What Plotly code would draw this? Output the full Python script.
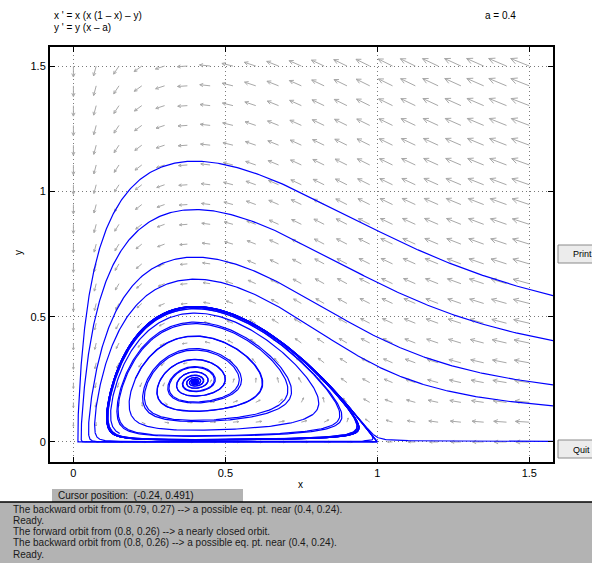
import math
import numpy as np
import plotly.graph_objects as go

# ---------------- data ----------------
a_param = 0.4
x_range = [-0.077, 1.578]
y_range = [-0.080, 1.576]
tick_vals = [0, 0.5, 1, 1.5]
tick_text = ["0", "0.5", "1", "1.5"]

# direction-field sample points
field_x = list(np.linspace(0.0, 1.5, 21))
field_y = list(np.linspace(0.0, 1.5, 20))

# orbits entering from the right edge: (x0, y0, forward time)
outer_x0 = [1.578, 1.578, 1.578, 1.578, 1.578]
outer_y0 = [0.584, 0.404, 0.228, 0.144, 0.002]
outer_T = [200, 200, 200, 200, 200]

# clicked orbits inside the cycle: (x0, y0, forward time, backward time)
inner_x0 = [0.80, 0.79, 0.62, 0.50]
inner_y0 = [0.26, 0.27, 0.25, 0.245]
inner_Tf = [150, 150, 40, 30]
inner_Tb = [300, 300, 300, 300]

messages = [
    "The backward orbit from (0.79, 0.27) --> a possible eq. pt. near (0.4, 0.24).",
    "Ready.",
    "The forward orbit from (0.8, 0.26) --> a nearly closed orbit.",
    "The backward orbit from (0.8, 0.26) --> a possible eq. pt. near (0.4, 0.24).",
    "Ready.",
]
cursor_text = "Cursor position:  (-0.24, 0.491)"
eq_text = ["x ' = x (x (1 \u2013 x) \u2013 y)", "y ' = y (x \u2013 a)"]
param_text = "a = 0.4"

# ---------------- layout geometry ----------------
W, H = 592, 563
ML, MR, MT, MB = 50, 39, 47, 101
PW, PH = W - ML - MR, H - MT - MB
px_x = PW / (x_range[1] - x_range[0])
px_y = PH / (y_range[1] - y_range[0])


def xp(px):
    return (px - ML) / PW


def yp(py):
    return (H - MB - py) / PH


def rhs(x, y):
    return x * (x * (1 - x) - y), y * (x - a_param)


def integrate(x0, y0, T, sgn):
    xs, ys = [x0], [y0]
    x, y, t = x0, y0, 0.0
    while t < T:
        fx, fy = rhs(x, y)
        sp = math.hypot(fx, fy)
        h = min(0.05, 0.003 / max(sp, 1e-12))
        hh = h * sgn
        k1 = rhs(x, y)
        k2 = rhs(x + hh / 2 * k1[0], y + hh / 2 * k1[1])
        k3 = rhs(x + hh / 2 * k2[0], y + hh / 2 * k2[1])
        k4 = rhs(x + hh * k3[0], y + hh * k3[1])
        x += hh / 6 * (k1[0] + 2 * k2[0] + 2 * k3[0] + k4[0])
        y += hh / 6 * (k1[1] + 2 * k2[1] + 2 * k3[1] + k4[1])
        t += h
        xs.append(x)
        ys.append(y)
        if x < -0.1 or x > 1.65 or y < -0.1 or y > 1.65:
            break
        if sgn < 0 and math.hypot(x - a_param, y - a_param * (1 - a_param)) < 0.002:
            break
    return xs, ys


ox, oy = [], []


def add(xs, ys):
    step = 2
    ox.extend([round(v, 5) for v in xs[::step]] + [None])
    oy.extend([round(v, 5) for v in ys[::step]] + [None])


for x0, y0, T in zip(outer_x0, outer_y0, outer_T):
    add(*integrate(x0, y0, T, 1))
for x0, y0, Tf, Tb in zip(inner_x0, inner_y0, inner_Tf, inner_Tb):
    add(*integrate(x0, y0, Tf, 1))
    add(*integrate(x0, y0, Tb, -1))

# direction field arrows (screen-space normalised)
axs, ays = [], []
for xv in field_x:
    for yv in field_y:
        fx, fy = rhs(xv, yv)
        m = math.hypot(fx, fy)
        if m < 1e-9:
            continue
        L = 12.9 * m ** (1 / 3)
        ux, uy = fx * px_x, fy * px_y
        n = math.hypot(ux, uy)
        ux, uy = ux / n, uy / n
        tx, ty = xv + ux * L / px_x, yv + uy * L / px_y
        axs += [xv, tx, None]
        ays += [yv, ty, None]
        hl = max(0.35 * L, 1.0)
        for ang in (0.45, -0.45):
            bx = -ux * math.cos(ang) + uy * math.sin(ang)
            by = -ux * math.sin(ang) - uy * math.cos(ang)
            axs += [tx, tx + bx * hl / px_x, None]
            ays += [ty, ty + by * hl / px_y, None]

fig = go.Figure()
fig.add_trace(go.Scatter(x=axs, y=ays, mode="lines",
                         line=dict(color="#a8a8a8", width=1),
                         hoverinfo="skip", showlegend=False))
fig.add_trace(go.Scatter(x=ox, y=oy, mode="lines",
                         line=dict(color="#0000ff", width=1.2),
                         hoverinfo="skip", showlegend=False))

axis_common = dict(
    showline=True, linecolor="black", linewidth=2, mirror="ticks",
    ticks="inside", ticklen=5, tickcolor="black", tickwidth=1,
    tickvals=tick_vals, ticktext=tick_text, automargin=False,
    showgrid=True, gridcolor="#7a7a7a", griddash="1px,3px", gridwidth=1,
    zeroline=False, tickfont=dict(family="Liberation Sans, Arial", size=11, color="black"),
)
fig.update_xaxes(range=x_range, **axis_common)
fig.update_yaxes(range=y_range, **axis_common)

F = "Liberation Sans, Arial"


def label(px, py, text, size=10, color="black", anchor="left", angle=0):
    return dict(x=xp(px), y=yp(py), text=text, xref="paper", yref="paper",
                xanchor=anchor, yanchor="middle", showarrow=False, textangle=angle,
                font=dict(family=F, size=size, color=color))


ann = [
    label(52, 15, eq_text[0]),
    label(52, 27, eq_text[1]),
    label(483, 15, param_text),
    label(300, 484, "x", anchor="center"),
    label(18, 253, "y", anchor="center", angle=-90),
    label(56, 495, cursor_text, color="#111111"),
    label(582, 254, "Print", size=9, anchor="center"),
    label(581, 450, "Quit", size=9, anchor="center"),
]
for i, msg in enumerate(messages):
    ann.append(label(11, 509 + 11.3 * i, msg, color="#1a1a1a"))

shapes = [
    dict(type="rect", xref="paper", yref="paper", x0=xp(-2), x1=xp(600), y0=yp(502), y1=yp(566),
         fillcolor="#b3b3b3", line=dict(width=0), layer="below"),
    dict(type="line", xref="paper", yref="paper", x0=xp(0), x1=xp(592), y0=yp(502), y1=yp(502),
         line=dict(color="black", width=1.5)),
    dict(type="rect", xref="paper", yref="paper", x0=xp(52), x1=xp(243), y0=yp(489), y1=yp(502),
         fillcolor="#b3b3b3", line=dict(width=0), layer="below"),
    dict(type="rect", xref="paper", yref="paper", x0=xp(558), x1=xp(600), y0=yp(245), y1=yp(263),
         fillcolor="#ececec", line=dict(color="#8a8a8a", width=1), layer="below"),
    dict(type="rect", xref="paper", yref="paper", x0=xp(558), x1=xp(600), y0=yp(440), y1=yp(458),
         fillcolor="#ececec", line=dict(color="#8a8a8a", width=1), layer="below"),
]

fig.update_layout(
    width=W, height=H, margin=dict(l=ML, r=MR, t=MT, b=MB),
    paper_bgcolor="white", plot_bgcolor="white",
    annotations=ann, shapes=shapes, showlegend=False,
)
fig.write_html("out.html", config={"displayModeBar": False},
               post_script="document.body.style.margin='0px';document.body.style.overflow='hidden';")
